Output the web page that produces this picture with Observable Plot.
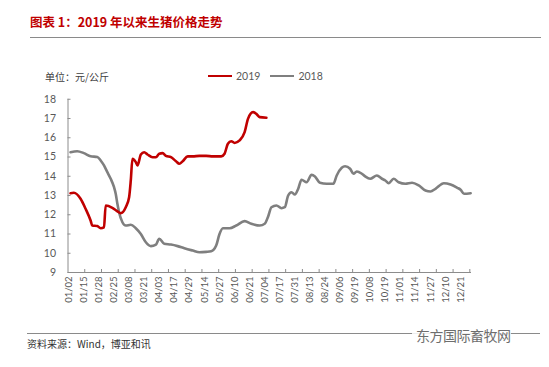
<!DOCTYPE html>
<html><head><meta charset="utf-8">
<script src="https://cdn.jsdelivr.net/npm/d3@7"></script>
<script src="https://cdn.jsdelivr.net/npm/@observablehq/plot@0.6"></script>
<style>
body{margin:0;background:#fff;}
#wrap{position:relative;width:549px;height:367px;overflow:hidden;background:#fff;font-family:"Noto Sans CJK SC",sans-serif;}
#title{position:absolute;left:30px;top:12px;font-size:12.5px;font-weight:bold;color:#c00000;white-space:nowrap;}
#rule1{position:absolute;left:30px;top:37px;width:511px;height:1px;background:#8a8a8a;}
#unit{position:absolute;left:45px;top:69px;font-size:10px;color:#404040;white-space:nowrap;}
#legend{position:absolute;left:208px;top:69px;font-family:Lato,sans-serif;font-size:10.5px;color:#595959;white-space:nowrap;display:flex;align-items:center;height:14px;}
#legend .sw{display:inline-block;width:24px;height:2.5px;margin-right:4px;}
#legend .item{display:flex;align-items:center;margin-right:10px;}
#chart{position:absolute;left:0;top:88px;}
#rule2{position:absolute;left:27px;top:333px;width:513px;height:1px;background:#8a8a8a;}
#source{position:absolute;left:27px;top:336px;font-size:10px;color:#333;white-space:nowrap;}
#mark{position:absolute;left:412px;top:325px;font-size:14px;color:#6e6e6e;white-space:nowrap;background:rgba(255,255,255,0.85);padding-left:4px;letter-spacing:-0.5px;}
</style></head><body>
<div id="wrap">
  <div id="title">图表 1：2019 年以来生猪价格走势</div>
  <div id="rule1"></div>
  <div id="unit">单位：元/公斤</div>
  <div id="legend"></div>
  <div id="chart"></div>
  <div id="rule2"></div>
  <div id="source">资料来源：Wind，博亚和讯</div>
  <div id="mark">东方国际畜牧网</div>
</div>
<script>
// Category tick labels (trading-day axis, label every 9 days)
const xLabels = ["01/02","01/15","01/28","02/25","03/08","03/21","04/03","04/17","04/29","05/14","05/27","06/10","06/21","07/04","07/17","07/31","08/13","08/24","09/06","09/19","10/08","10/19","11/01","11/14","11/27","12/10","12/21"];
const yTicks = [9,10,11,12,13,14,15,16,17,18];
const seriesNames = ["2019","2018"];
const seriesColors = ["#c00000","#7f7f7f"];

// 2018 series: trading-day index and price (元/公斤)
const idx2018 = [0,4,8,12,16,18,20,22,24,26,27,28,29,31,33,36,39,42,45,48,51,53,56,60,64,68,73,77,81,84,87,89,91,95,99,104,108,113,116,118,120,123,126,128,130,132,134,136,138,141,144,146,149,153,157,159,162,164,167,169,171,174,176,179,183,186,188,190,193,196,200,204,208,212,215,218,223,227,231,233,235,239];
const val2018 = [15.25,15.30,15.20,15.04,15.00,14.82,14.56,14.21,13.87,13.43,13.09,12.57,12.13,11.61,11.44,11.48,11.30,11.00,10.57,10.37,10.45,10.75,10.49,10.45,10.37,10.26,10.14,10.05,10.07,10.10,10.40,11.00,11.30,11.30,11.44,11.67,11.53,11.44,11.53,11.90,12.39,12.48,12.34,12.39,13.00,13.17,13.05,13.35,13.82,13.69,14.07,13.99,13.66,13.61,13.61,14.04,14.44,14.52,14.39,14.13,14.25,14.13,13.99,13.87,14.04,13.87,13.78,13.64,13.87,13.69,13.61,13.66,13.52,13.26,13.21,13.35,13.64,13.57,13.40,13.30,13.09,13.12];

// 2019 series
const idx2019 = [0,2,6,9,12,13,16,18,20,21,25,28,30,33,35,36,37,39,40,42,44,46,49,51,53,55,57,60,63,65,67,70,73,77,81,85,90,92,94,96,98,101,104,106,109,111,113,117];
const val2019 = [13.12,13.14,12.83,12.31,11.70,11.44,11.41,11.30,11.35,12.48,12.36,12.18,12.08,12.39,12.91,13.78,14.91,14.73,14.56,15.13,15.25,15.13,14.99,14.99,15.17,15.20,15.06,14.99,14.78,14.65,14.78,15.03,15.03,15.06,15.06,15.03,15.03,15.17,15.69,15.82,15.73,15.86,16.29,16.98,17.33,17.24,17.07,17.04];

const d2018 = idx2018.map((x,i)=>({x, y: val2018[i]}));
const d2019 = idx2019.map((x,i)=>({x, y: val2019[i]}));

const labelPos = xLabels.map((_,k)=> -1 + 9*k);
const labelMap = new Map(labelPos.map((p,k)=>[p, xLabels[k]]));
const tickPos = d3.range(1,25).map(k=> -1.5 + 10*k);

// legend
const lg = document.getElementById("legend");
seriesNames.forEach((n,i)=>{
  const it = document.createElement("span"); it.className="item";
  it.innerHTML = `<span class="sw" style="background:${seriesColors[i]}"></span><span>${n}</span>`;
  lg.appendChild(it);
});

const chart = Plot.plot({
  width: 549,
  height: 219,
  marginLeft: 67.5,
  marginRight: 78,
  marginTop: 10.75,
  marginBottom: 35,
  style: {fontFamily: "Lato, sans-serif", color: "#595959", background: "transparent", overflow: "visible"},
  x: {domain: [-1.5, 239.5], axis: null},
  y: {domain: [9, 18], axis: null},
  marks: [
    Plot.ruleX([-1.5], {stroke: "#8c8c8c", strokeWidth: 1}),
    Plot.ruleY([9], {stroke: "#8c8c8c", strokeWidth: 1}),
    Plot.axisY({ticks: yTicks, label: null, tickSize: 3, dx: 3, fill: "none", stroke: "#8c8c8c"}),
    Plot.axisY({ticks: yTicks, label: null, tickSize: 0, tickPadding: 12, fontSize: 10.5, fill: "#595959", tickFormat: d => String(d)}),
    Plot.axisX({ticks: tickPos, label: null, tickSize: 3, dy: -3, fill: "none", stroke: "#8c8c8c", tickFormat: () => ""}),
    Plot.axisX({ticks: labelPos, label: null, tickSize: 0, tickPadding: 4, tickRotate: -90, fontSize: 9.5, fill: "#595959", tickFormat: d => labelMap.get(d)}),
    Plot.line(d2018, {x: "x", y: "y", stroke: seriesColors[1], strokeWidth: 2.6, curve: "monotone-x"}),
    Plot.line(d2019, {x: "x", y: "y", stroke: seriesColors[0], strokeWidth: 2.6, curve: "monotone-x"})
  ]
});
document.getElementById("chart").appendChild(chart);
</script>
</body></html>
